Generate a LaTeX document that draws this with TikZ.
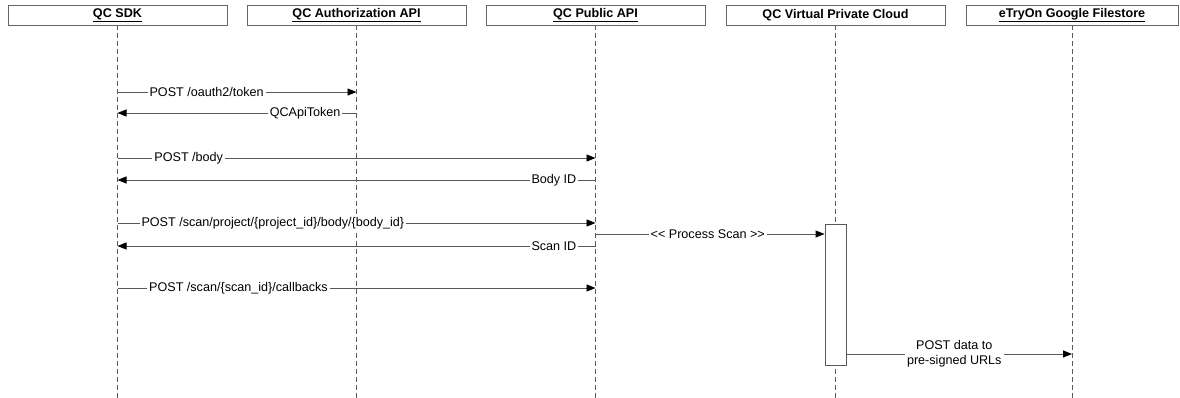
\documentclass[tikz,border=0pt]{standalone}
\usepackage{fontspec}
\setmainfont{Liberation Sans}
\usetikzlibrary{arrows.meta}
\begin{document}
\begin{tikzpicture}[x=1pt,y=-1pt,
  font=\fontsize{12.6}{15}\selectfont,
  actor/.style={draw=black!60, line width=0.9pt, minimum height=20pt, inner sep=0pt,
    font=\fontsize{12.6}{15}\selectfont\bfseries},
  life/.style={draw=black!65, dash pattern=on 5pt off 3pt, line width=0.8pt},
  msg/.style={draw=black!65, line width=0.9pt, -{Triangle[length=9pt,width=7pt,black]}},
  lbl/.style={fill=white, inner sep=2pt, text=black},
  actbox/.style={draw=black!65, fill=white, line width=0.9pt, inner sep=0pt}
]
\useasboundingbox (0,0) rectangle (1180,398);

% participants
\node[actor, minimum width=219pt] (sdk)   at (117.5,15) {\underline{QC SDK}};
\node[actor, minimum width=219pt] (auth)  at (356.5,15) {\underline{QC Authorization API}};
\node[actor, minimum width=219pt] (pub)   at (595.5,15) {\underline{QC Public API}};
\node[actor, minimum width=219pt] (vpc)   at (835.5,15) {QC Virtual Private Cloud};
\node[actor, minimum width=212pt] (store) at (1072,15)  {\underline{eTryOn Google Filestore}};

% lifeline ends
\coordinate (sdkB)   at (sdk.south |- 0,398);
\coordinate (authB)  at (auth.south |- 0,398);
\coordinate (pubB)   at (pub.south |- 0,398);
\coordinate (vpcB)   at (vpc.south |- 0,398);
\coordinate (storeB) at (store.south |- 0,398);

% lifelines
\draw[life] (sdk.south) -- (sdkB);
\draw[life] (auth.south) -- (authB);
\draw[life] (pub.south) -- (pubB);
\draw[life] (vpc.south) -- (vpcB);
\draw[life] (store.south) -- (storeB);

% activation
\node[actbox, minimum width=21pt, minimum height=141pt, anchor=north] (act) at (vpc.south |- 0,224) {};

% messages
\draw[msg] (sdk.south |- 0,92) -- (auth.south |- 0,92) node[lbl, pos=.373] {POST /oauth2/token};
\draw[msg] (auth.south |- 0,113) -- (sdk.south |- 0,113) node[lbl, pos=.215] {QCApiToken};
\draw[msg] (sdk.south |- 0,158) -- (pub.south |- 0,158) node[lbl, pos=.149] {POST /body};
\draw[msg] (pub.south |- 0,180) -- (sdk.south |- 0,180) node[lbl, pos=.087] {Body ID};
\draw[msg] (sdk.south |- 0,223) -- (pub.south |- 0,223) node[lbl, pos=.325] {POST /scan/project/\{project\_id\}/body/\{body\_id\}};
\draw[msg] (pub.south |- 0,246) -- (sdk.south |- 0,246) node[lbl, pos=.087] {Scan ID};
\draw[msg] (pub.south |- 0,234) -- (act.west |- 0,234) node[lbl, pos=.49] {<{}< Process Scan >{}>};
\draw[msg] (sdk.south |- 0,288) -- (pub.south |- 0,288) node[lbl, pos=.253] {POST /scan/\{scan\_id\}/callbacks};
\draw[msg] (act.east |- 0,354) -- (store.south |- 0,354) node[lbl, pos=.478, align=center] {POST data to\\pre-signed URLs};
\end{tikzpicture}
\end{document}
